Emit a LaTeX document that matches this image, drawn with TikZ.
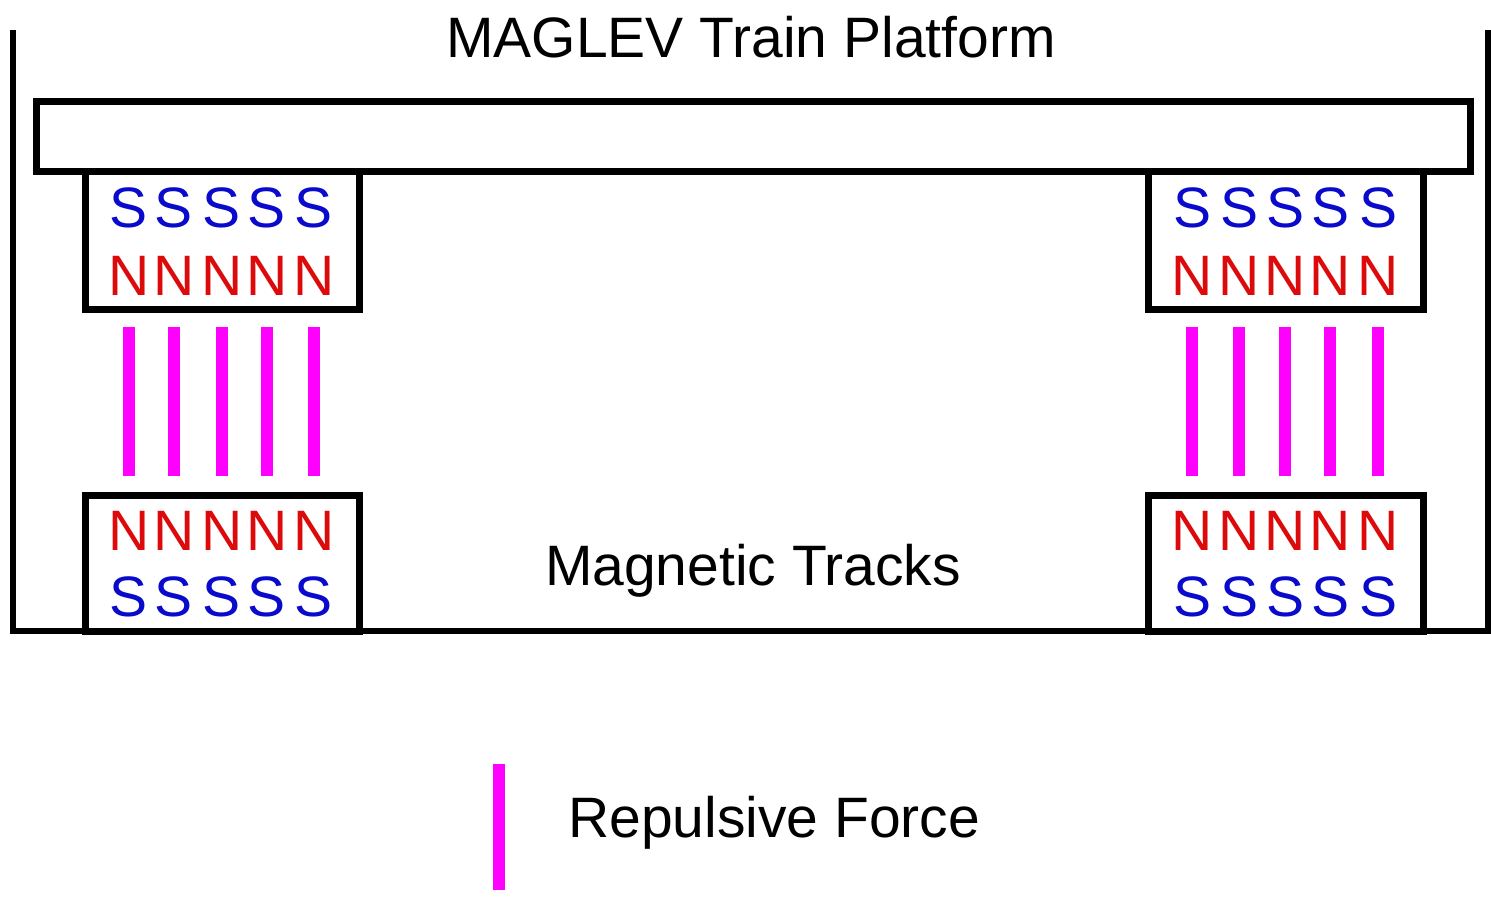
\documentclass[tikz,border=0pt]{standalone}
\usepackage{fontspec}
\setmainfont{Liberation Sans}
\definecolor{sblue}{RGB}{10,10,205}
\definecolor{nred}{RGB}{220,10,10}
\definecolor{forcemag}{RGB}{255,0,255}
\begin{document}
\begin{tikzpicture}[x=1pt,y=-1pt,
  frame/.style={line width=6pt},
  box/.style={line width=7pt, fill=white},
  force/.style={line width=12pt, forcemag},
  lbl/.style={anchor=base, inner sep=0pt, font=\fontsize{57}{68}\selectfont},
  spole/.style={lbl, text=sblue},
  npole/.style={lbl, text=nred}]
\useasboundingbox (0,0) rectangle (1491,917);
% outer frame
\draw[frame] (13,30) -- (13,631) -- (1488,631) -- (1488,30);
% platform
\draw[box] (36.5,102) rectangle (1470,172);
% magnet boxes
\draw[box] (85,172) rectangle (359,310);
\draw[box] (1148,172) rectangle (1423,310);
\draw[box] (85,495) rectangle (359,631);
\draw[box] (1148,495) rectangle (1423,631);
% texts
\node[lbl] (title) at (751,58) {MAGLEV Train Platform};
\node[lbl] (tracks) at (753,585) {Magnetic Tracks};
\node[lbl, anchor=base west] (legendtxt) at (568,837) {Repulsive Force};
% legend bar
\coordinate (lbtop) at (499,764);
\coordinate (lbbot) at (499,890);
\draw[force] (lbtop) -- (lbbot);
% poles and forces
\foreach \x [count=\i] in {129,174,222,267,314} {
  \node[spole] (ls\i) at (\x,228) {S};
  \node[npole] (ln\i) at (\x,296) {N};
  \node[npole] (bn\i) at (\x,550) {N};
  \node[spole] (bs\i) at (\x,616) {S};
  \draw[force] (\x,327) -- (\x,476);
}
\foreach \x [count=\i] in {1192,1239,1285,1330,1378} {
  \node[spole] (rs\i) at (\x,228) {S};
  \node[npole] (rn\i) at (\x,296) {N};
  \node[npole] (rbn\i) at (\x,550) {N};
  \node[spole] (rbs\i) at (\x,616) {S};
  \draw[force] (\x,327) -- (\x,476);
}
\end{tikzpicture}
\end{document}
